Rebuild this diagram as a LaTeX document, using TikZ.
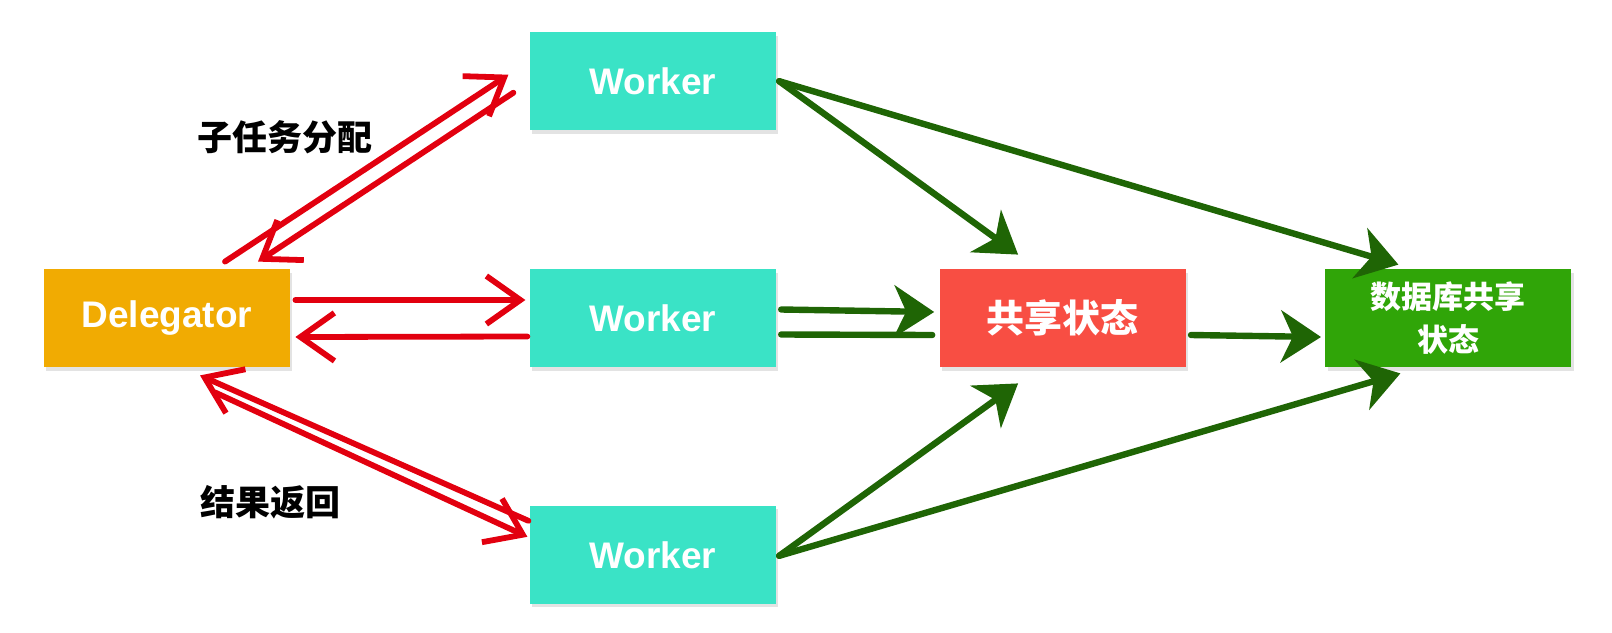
\documentclass[tikz,border=0pt]{standalone}
\usepackage{fontspec}
\setmainfont{Liberation Sans}
\newfontfamily\cjk{Noto Sans CJK SC}
\usepackage{tikz}
\usetikzlibrary{arrows.meta,positioning,shadows}
\definecolor{delegorange}{HTML}{F1AB02}
\definecolor{workteal}   {HTML}{3AE3C6}
\definecolor{statered}   {HTML}{F84E43}
\definecolor{dbgreen}    {HTML}{30A508}
\definecolor{penred}     {HTML}{E2000F}
\definecolor{pengreen}   {HTML}{1F6505}
\tikzset{
  agentbox/.style  ={draw=none, minimum width=123pt, minimum height=49pt,
                     inner sep=2pt, align=center, text=white,
                     font=\fontsize{18.5}{22}\selectfont\bfseries,
                     drop shadow={shadow xshift=1.2pt, shadow yshift=-1.8pt, opacity=0.22}},
  delegbox/.style  ={agentbox, fill=delegorange},
  workbox/.style   ={agentbox, fill=workteal},
  statebox/.style  ={agentbox, fill=statered, font=\cjk\fontsize{19}{22}\selectfont\bfseries},
  dbbox/.style     ={agentbox, fill=dbgreen, font=\cjk\fontsize{15.5}{21.5}\selectfont\bfseries},
  tasklabel/.style ={font=\cjk\fontsize{17.5}{20}\selectfont\bfseries, text=black},
  redarr/.style    ={-{Straight Barb[length=17pt,width=24pt,line width=2.9pt]},
                     line width=2.9pt, line cap=round, color=penred},
  greenarr/.style  ={-{Stealth[length=20pt,width=26pt,inset=6pt]},
                     line width=3.2pt, line cap=round, color=pengreen},
  greenline/.style ={line width=3.2pt, line cap=round, color=pengreen},
}

\begin{document}
\begin{tikzpicture}[x=0.5pt, y=-0.5pt]
    \useasboundingbox (0,0) rectangle (1612,632);

    \node[delegbox] (dl) at (167,318) {Delegator};
    \node[workbox,right=119.5pt of dl] (w2) {Worker};
    \node[workbox,above=69pt of w2] (w1) {Worker};
    \node[workbox,below=69pt of w2] (w3) {Worker};
    \node[statebox,right=81.5pt of w2] (sh) {共享状态};
    \node[dbbox,right=69.5pt of sh] (db) {数据库共享\\状态};

    \node[tasklabel] (lbassign) at (285,137) {子任务分配};
    \node[tasklabel] (lbreturn) at (270,502) {结果返回};

    % delegator <-> workers
    \draw[redarr] ([xshift=29pt,yshift=3.5pt]dl.north) -- ([xshift=-10.5pt,yshift=3.25pt]w1.west);
    \draw[redarr] ([xshift=-8pt,yshift=-5.75pt]w1.west) -- ([xshift=45.5pt,yshift=3.5pt]dl.north);
    \draw[redarr] ([xshift=2.5pt,yshift=9pt]dl.east) -- ([xshift=-2pt,yshift=9pt]w2.west);
    \draw[redarr] ([xshift=-1pt,yshift=-9.25pt]w2.west) -- ([xshift=2.5pt,yshift=-9.5pt]dl.east);
    \draw[redarr] ([xshift=24pt,yshift=-12.5pt]dl.south) -- ([xshift=-1pt,yshift=9pt]w3.west);
    \draw[redarr] ([xshift=-0.5pt,yshift=17pt]w3.west) -- ([xshift=16.5pt,yshift=-4pt]dl.south);

    % workers -> shared state
    \draw[greenarr] ([xshift=1.5pt]w1.east) -- ([xshift=-22.25pt,yshift=7pt]sh.north);
    \draw[greenarr] ([xshift=1.5pt]w1.east) -- ([xshift=-25pt,yshift=2pt]db.north);
    \draw[greenarr] ([xshift=2.5pt,yshift=4.25pt]w2.east) -- ([xshift=-2.5pt,yshift=3pt]sh.west);
    \draw[greenline] ([xshift=2.5pt,yshift=-8.25pt]w2.east) -- ([xshift=-3.5pt,yshift=-8.5pt]sh.west);
    \draw[greenarr] ([xshift=2.5pt,yshift=-8.5pt]sh.east) -- ([xshift=-2pt,yshift=-9.5pt]db.west);
    \draw[greenarr] ([xshift=1.5pt,yshift=-0.5pt]w3.east) -- ([xshift=-22.25pt,yshift=-8pt]sh.south);
    \draw[greenarr] ([xshift=1.5pt,yshift=-0.5pt]w3.east) -- ([xshift=-24pt,yshift=-3pt]db.south);
\end{tikzpicture}
\end{document}
